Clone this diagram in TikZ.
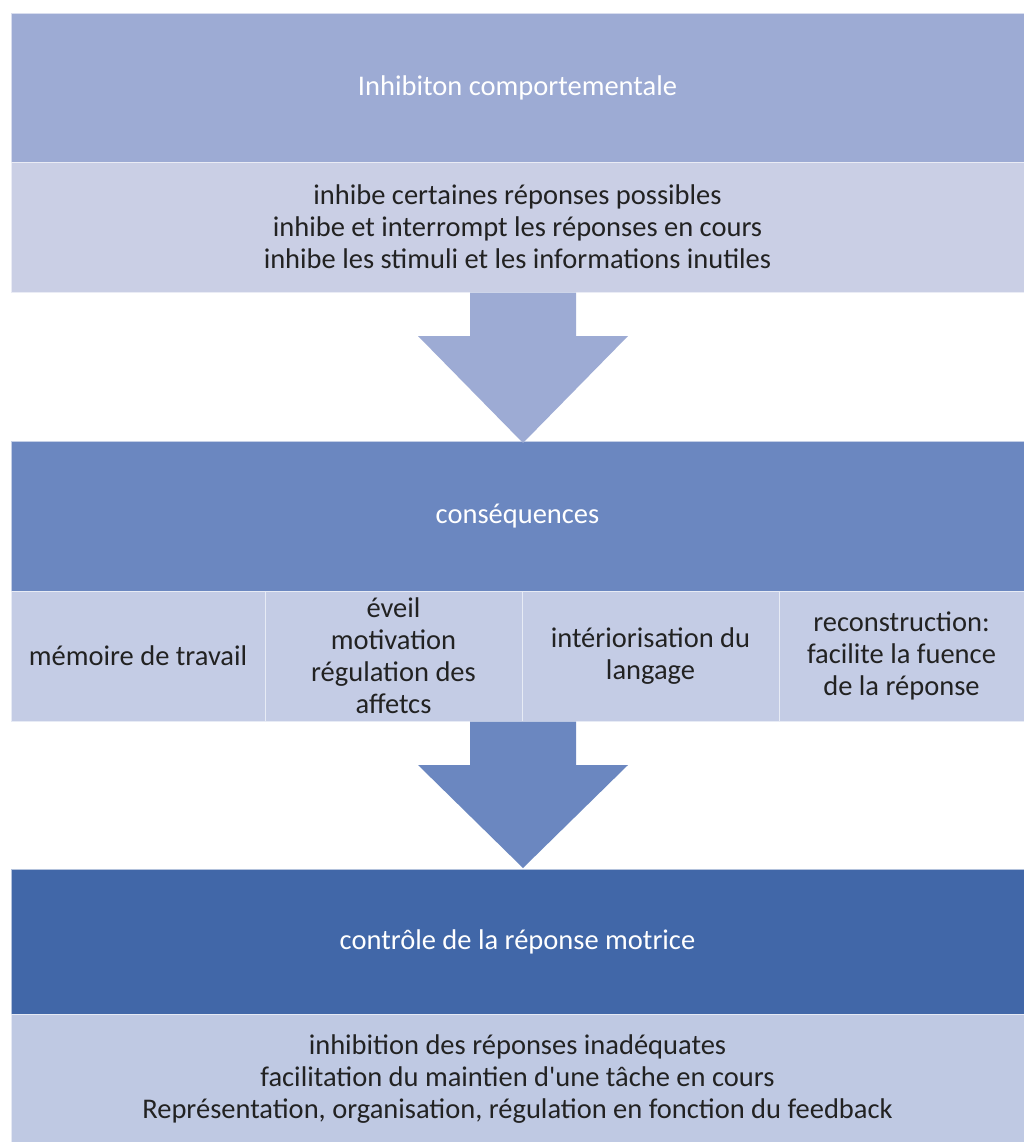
\documentclass[tikz,border=0pt]{standalone}
\usepackage{fontspec}
\setmainfont{Carlito}[Ligatures=TeXOff]
\usetikzlibrary{calc}
\definecolor{hdA}{HTML}{9DABD4}
\definecolor{bdA}{HTML}{CACFE5}
\definecolor{hdB}{HTML}{6B87C0}
\definecolor{bdB}{HTML}{C4CCE5}
\definecolor{hdC}{HTML}{4167A8}
\definecolor{bdC}{HTML}{BFC9E3}
\definecolor{txt}{HTML}{222222}
\begin{document}
\begin{tikzpicture}[x=1pt,y=-1pt,
  every node/.style={font=\fontsize{28.5}{32}\selectfont, align=center, inner sep=0pt, outer sep=0pt},
  hdr/.style={fill=#1, draw=white!60!#1, line width=0.8pt, text=white, anchor=north west, minimum width=1013pt, minimum height=149pt},
  bdy/.style={fill=#1, draw=white!60!#1, line width=0.8pt, text=txt, anchor=north west, minimum width=1013pt, minimum height=130pt},
  cell/.style={fill=bdB, draw=white!60!bdB, line width=0.8pt, text=txt, anchor=north west, minimum height=130pt},
  blockarrow/.style={fill=#1, draw=none}
]
\useasboundingbox (0,0) rectangle (1024,1142);
\fill[white] (0,0) rectangle (1024,1142);
% Box 1
\node[hdr=hdA] (h1) at (11,13) {Inhibiton comportementale};
\node[bdy=bdA] (b1) at (11,162) {inhibe certaines réponses possibles\\inhibe et interrompt les réponses en cours\\inhibe les stimuli et les informations inutiles};
% Box 2
\node[hdr=hdB, minimum height=150pt] (h2) at (11,441) {conséquences};
\node[cell, minimum width=254pt] (c1) at (11,591) {mémoire de travail};
\node[cell, minimum width=257pt] (c2) at (265,591) {éveil\\motivation\\régulation des\\affetcs};
\node[cell, minimum width=257pt] (c3) at (522,591) {intériorisation du\\langage};
\node[cell, minimum width=245pt] (c4) at (779,591) {reconstruction:\\facilite la fuence\\de la réponse};
% Box 3
\node[hdr=hdC, minimum height=145pt] (h3) at (11,869) {contrôle de la réponse motrice};
\node[bdy=bdC, minimum height=130pt] (b3) at (11,1014) {inhibition des réponses inadéquates\\facilitation du maintien d'une tâche en cours\\Représentation, organisation, régulation en fonction du feedback};
% Arrow 1
\coordinate (a1s) at ($(b1.south)+(5.5,0)$);
\coordinate (a1e) at ($(h2.north)+(5.5,2)$);
\fill[blockarrow=hdA] ($(a1s)+(-53,0.5)$) -- ($(a1s)+(53,0.5)$) -- ($(a1s)+(53,44)$) -- ($(a1s)+(105,44)$) -- (a1e) -- ($(a1s)+(-105,44)$) -- ($(a1s)+(-53,44)$) -- cycle;
% Arrow 2
\coordinate (a2s) at ($(c2.south east)+(1,0)$);
\coordinate (a2e) at ($(h3.north)+(5.5,-1)$);
\fill[blockarrow=hdB] ($(a2e |- a2s)+(-53,0.5)$) -- ($(a2e |- a2s)+(53,0.5)$) -- ($(a2e |- a2s)+(53,44)$) -- ($(a2e |- a2s)+(105,44)$) -- (a2e) -- ($(a2e |- a2s)+(-105,44)$) -- ($(a2e |- a2s)+(-53,44)$) -- cycle;
\end{tikzpicture}
\end{document}
